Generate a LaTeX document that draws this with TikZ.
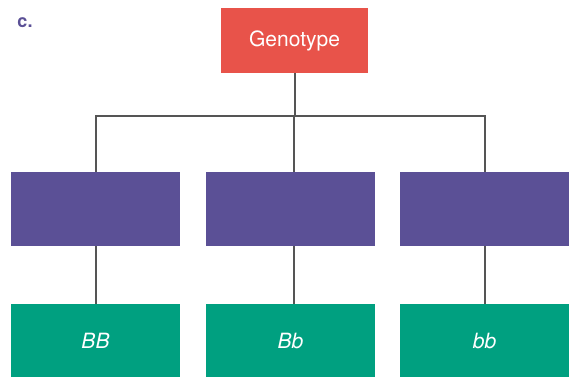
\documentclass[tikz,border=0pt]{standalone}
\usepackage{fontspec}
\setmainfont{TeX Gyre Heros}
\usepackage{tikz}
\usetikzlibrary{positioning,calc}
\definecolor{genoRed}{RGB}{232,83,74}
\definecolor{phenoPurple}{RGB}{91,80,150}
\definecolor{alleleGreen}{RGB}{0,160,128}
\definecolor{linkGray}{RGB}{85,85,85}

\begin{document}
\begin{tikzpicture}[x=1pt, y=-1pt,
  genobox/.style={fill=genoRed, text=white, minimum width=147pt, minimum height=65pt, inner sep=0pt, font=\fontsize{21}{25}\selectfont},
  phenobox/.style={fill=phenoPurple, minimum width=169pt, minimum height=74pt, inner sep=0pt},
  allelebox/.style={fill=alleleGreen, text=white, minimum width=169pt, minimum height=73pt, inner sep=0pt, font=\fontsize{21}{25}\selectfont\itshape},
  link/.style={draw=linkGray, line width=2pt}]
  \useasboundingbox (0,0) rectangle (572,377);
  % panel letter
  \node[text=phenoPurple, font=\fontsize{18}{21}\selectfont\bfseries] (lbl) at (25,23){c.};
  % top box
  \node[genobox] (geno) at (294.5,40.5){Genotype};
  % middle row  y=172..246
  \node[phenobox] (p1) at (95.5,209){};
  \node[phenobox] (p2) at (290.5,209){};
  \node[phenobox] (p3) at (484.5,209){};
  % bottom row  y=304..377
  \node[allelebox] (a1) at (95.5,340.5){BB};
  \node[allelebox] (a2) at (290.5,340.5){Bb};
  \node[allelebox] (a3) at (484.5,340.5){bb};
  % branch bar y=116
  \coordinate (bar) at (294,116);
  \draw[link] (geno.south) -- (geno.south |- bar);
  \draw[link] (p1.north) |- (bar) -| (p3.north);
  \draw[link] (bar) -- (p2.north -| bar);
  % stems
  \draw[link] (p1.south) -- (a1.north);
  \draw[link] (p2.south -| bar) -- (a2.north -| bar);
  \draw[link] (p3.south) -- (a3.north);
\end{tikzpicture}
\end{document}
